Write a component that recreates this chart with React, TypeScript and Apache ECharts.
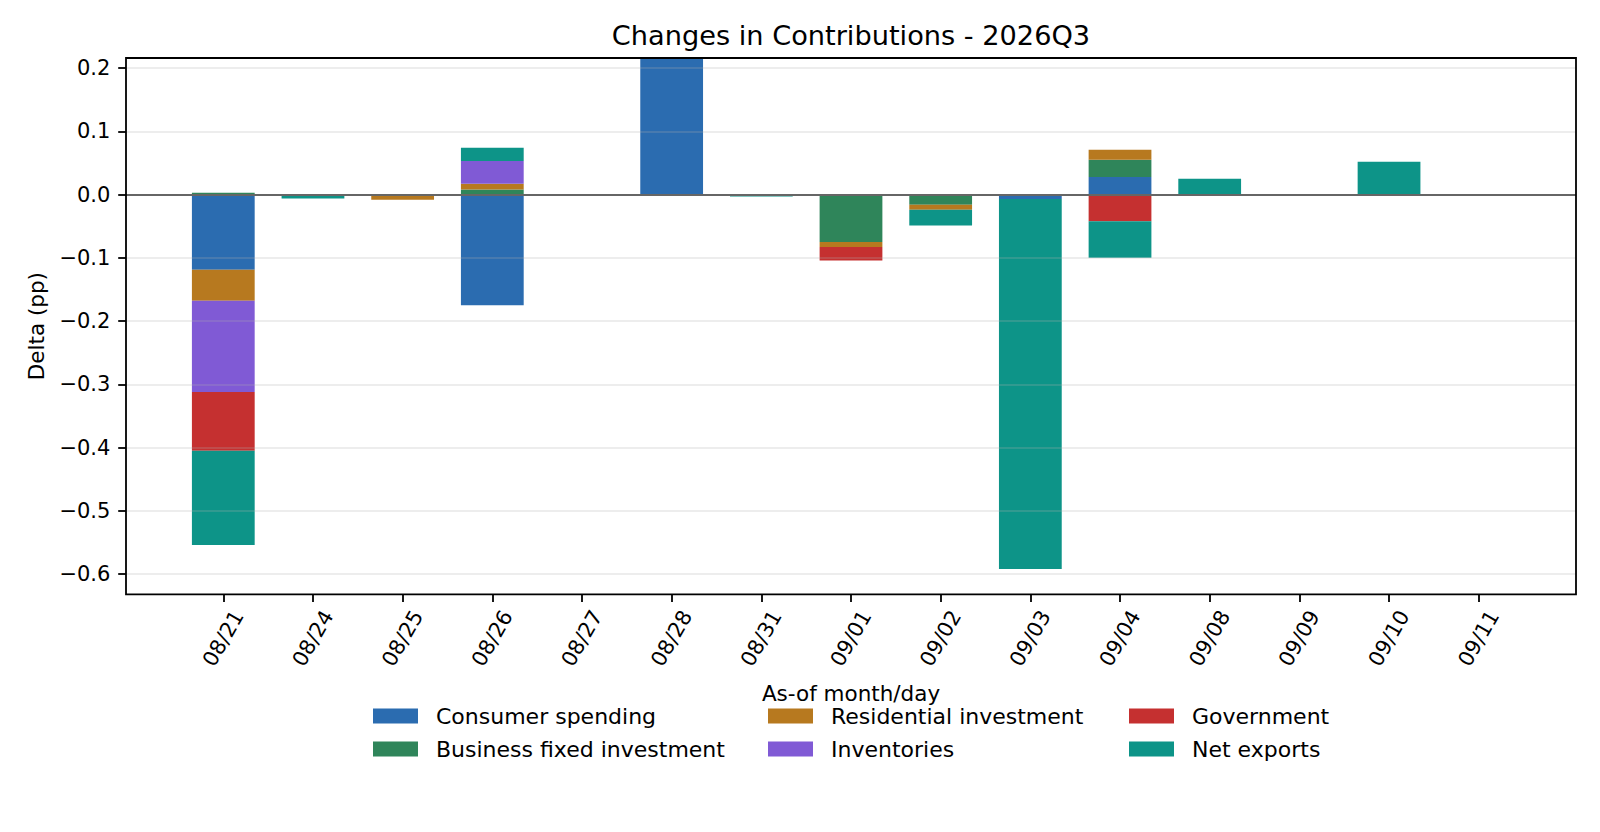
import React, { useEffect, useRef } from "react";
import * as echarts from "echarts";

// ---- data ----
const categories = ["08/21", "08/24", "08/25", "08/26", "08/27", "08/28", "08/31", "09/01", "09/02", "09/03", "09/04", "09/08", "09/09", "09/10", "09/11"];
const seriesNames = ["Consumer spending", "Business fixed investment", "Residential investment", "Inventories", "Government", "Net exports"];
const seriesColors = ["#2B6CB0", "#2F855A", "#B7791F", "#805AD5", "#C53030", "#0D9488"];

const consumerSpending = [-0.119, 0, 0, -0.175, 0, 0.25, 0, 0, 0, -0.007, 0.028, 0, 0, 0, 0];
const businessFixedInvestment = [0.003, 0, 0, 0.008, 0, 0, 0, -0.075, -0.016, 0, 0.027, 0, 0, 0, 0];
const residentialInvestment = [-0.049, 0, -0.008, 0.009, 0, 0, 0, -0.008, -0.008, 0, 0.016, 0, 0, 0, 0];
const inventories = [-0.144, 0, 0, 0.036, 0, 0, 0, 0, 0, 0, 0, 0, 0, 0, 0];
const government = [-0.093, 0, 0, 0, 0, 0, 0, -0.021, 0, 0, -0.042, 0, 0, 0, 0];
const netExports = [-0.149, -0.006, 0, 0.021, 0, 0, -0.003, 0, -0.025, -0.585, -0.058, 0.025, 0, 0.052, 0];

const yTicks = [-0.6, -0.5, -0.4, -0.3, -0.2, -0.1, 0, 0.1, 0.2];
const yMin = -0.632;
const yMax = 0.216;
const xMin = -1.085;
const xMax = 15.085;
const barWidthUnits = 0.7;

const titleText = "Changes in Contributions - 2026Q3";
const yAxisLabel = "Delta (pp)";
const xAxisLabel = "As-of month/day";

const FONT = "'DejaVu Sans', 'Liberation Sans', sans-serif";

function fmtY(v: number): string {
  const r = Math.round(v * 10) / 10;
  if (Math.abs(r) < 1e-9) return "0.0";
  const s = Math.abs(r).toFixed(1);
  return r < 0 ? "\u2212" + s : s;
}

export default function App() {
  const ref = useRef<HTMLDivElement>(null);

  useEffect(() => {
    if (!ref.current) return;
    const chart = echarts.init(ref.current, null, { renderer: "svg" });
    const allValues = [consumerSpending, businessFixedInvestment, residentialInvestment, inventories, government, netExports];
    const xIdx = categories.map((_, i) => i);

    // stack positives upward and negatives downward, in series order
    const posAcc = categories.map(() => 0);
    const negAcc = categories.map(() => 0);
    const stacked = allValues.map((vals) =>
      vals.map((v, i) => {
        let base: number;
        if (v >= 0) {
          base = posAcc[i];
          posAcc[i] += v;
        } else {
          base = negAcc[i];
          negAcc[i] += v;
        }
        return [i, base, base + v];
      })
    );

    const series: any[] = stacked.map((data, si) => ({
      name: seriesNames[si],
      type: "custom",
      clip: true,
      itemStyle: { color: seriesColors[si] },
      emphasis: { disabled: true },
      encode: { x: 0, y: [1, 2] },
      data,
      renderItem: (params: any, api: any) => {
        const x = api.value(0);
        const y0 = api.value(1);
        const y1 = api.value(2);
        if (y0 === y1) return null;
        const p0 = api.coord([x, y0]);
        const p1 = api.coord([x, y1]);
        const w = api.size([barWidthUnits, 0])[0];
        const rect = {
          x: p0[0] - w / 2,
          y: Math.min(p0[1], p1[1]),
          width: w,
          height: Math.abs(p1[1] - p0[1]),
        };
        const clipped = echarts.graphic.clipRectByRect(rect, params.coordSys);
        if (!clipped) return null;
        return {
          type: "rect",
          shape: clipped,
          style: { fill: seriesColors[si] },
        };
      },
    }));

    // gridlines and zero line drawn over the bars
    series.push({
      name: "__lines",
      type: "line",
      data: [],
      z: 10,
      silent: true,
      markLine: {
        silent: true,
        z: 10,
        symbol: ["none", "none"],
        label: { show: false },
        animation: false,
        data: [
          ...yTicks
            .filter((v) => v !== 0)
            .map((v) => ({ yAxis: v, lineStyle: { color: "rgba(176,176,176,0.3)", width: 1.7, type: "solid" } })),
          { yAxis: 0, lineStyle: { color: "#666666", width: 2, type: "solid" } },
        ],
      },
    });

    const legendCommon = {
      orient: "vertical",
      icon: "rect",
      itemWidth: 45,
      itemHeight: 15,
      itemGap: 9,
      padding: 0,
      selectedMode: false,
      textStyle: { fontFamily: FONT, fontSize: 22, color: "#000", lineHeight: 24, padding: [0, 0, 0, 13] },
    };

    const option: any = {
      animation: false,
      backgroundColor: "#ffffff",
      textStyle: { fontFamily: FONT },
      grid: { left: 126, right: 24, top: 58, bottom: 237.7, containLabel: false, outerBoundsMode: "none" },
      legend: [
        { ...legendCommon, left: 373, top: 704, data: [seriesNames[0], seriesNames[1]] },
        { ...legendCommon, left: 768, top: 704, data: [seriesNames[2], seriesNames[3]] },
        { ...legendCommon, left: 1129, top: 704, data: [seriesNames[4], seriesNames[5]] },
      ],
      xAxis: {
        type: "value",
        min: xMin,
        max: xMax,
        name: xAxisLabel,
        nameLocation: "middle",
        nameGap: 88,
        nameTextStyle: { fontFamily: FONT, fontSize: 21.5, color: "#000" },
        axisLine: { show: false, onZero: false },
        splitLine: { show: false },
        axisTick: { show: true, length: 7.8, customValues: xIdx, lineStyle: { color: "#000", width: 1.8 } },
        axisLabel: {
          customValues: xIdx,
          rotate: 60,
          align: "center",
          verticalAlign: "middle",
          margin: 44,
          fontFamily: FONT,
          fontSize: 21,
          color: "#000",
          formatter: (v: number) => categories[Math.round(v)] ?? "",
        },
      },
      yAxis: {
        type: "value",
        min: yMin,
        max: yMax,
        name: yAxisLabel,
        nameLocation: "middle",
        nameGap: 79,
        nameTextStyle: { fontFamily: FONT, fontSize: 21.5, color: "#000" },
        axisLine: { show: false, onZero: false },
        splitLine: { show: false },
        axisTick: { show: true, length: 7.8, customValues: yTicks, lineStyle: { color: "#000", width: 1.8 } },
        axisLabel: {
          customValues: yTicks,
          margin: 15.6,
          fontFamily: FONT,
          fontSize: 21,
          color: "#000",
          formatter: (v: number) => fmtY(v),
        },
      },
      graphic: [
        {
          type: "text",
          x: 851,
          y: 35,
          z: 100,
          style: {
            text: titleText,
            fontFamily: FONT,
            fontSize: 27.2,
            fill: "#000",
            textAlign: "center",
            textVerticalAlign: "middle",
          },
        },
        {
          type: "rect",
          z: 100,
          silent: true,
          shape: { x: 126, y: 58, width: 1450, height: 536.3 },
          style: { fill: "none", stroke: "#000", lineWidth: 1.8 },
        },
      ],
      series,
    };

    chart.setOption(option);
    return () => chart.dispose();
  }, []);

  return (
    <div
      ref={ref}
      style={{ position: "fixed", left: 0, top: 0, width: 1600, height: 832, background: "#fff" }}
    />
  );
}
